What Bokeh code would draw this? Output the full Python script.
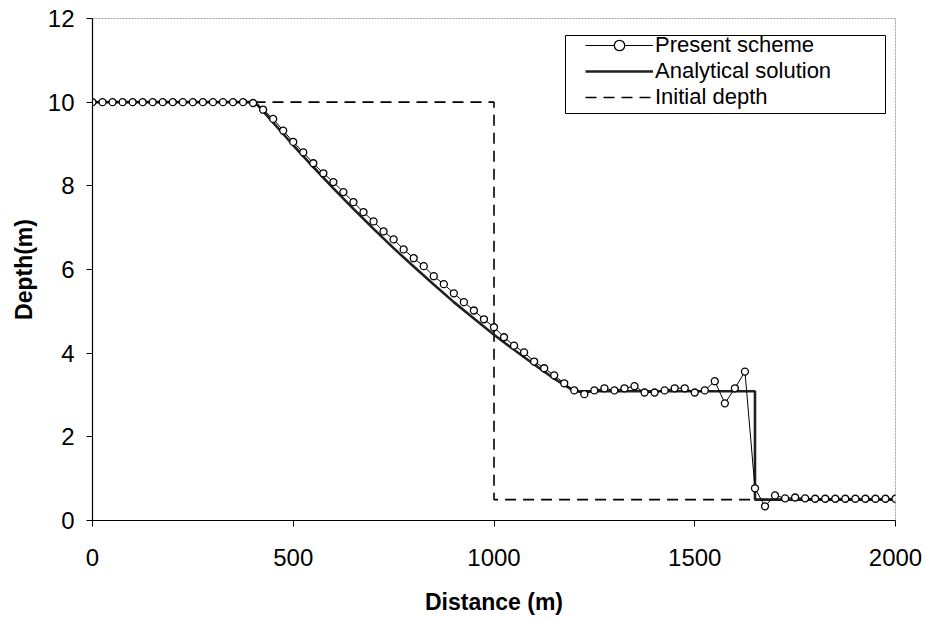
from bokeh.plotting import figure
from bokeh.models import Range1d, FixedTicker, Legend, LegendItem, ColumnDataSource, BoxAnnotation
from bokeh.embed import file_html
from bokeh.resources import INLINE

# ---- data ----
present_x = [0, 25, 50, 75, 100, 125, 150, 175, 200, 225, 250, 275, 300, 325, 350, 375,
             400, 425, 450, 475, 500, 525, 550, 575, 600, 625, 650, 675, 700, 725, 750, 775,
             800, 825, 850, 875, 900, 925, 950, 975, 1000, 1025, 1050, 1075, 1100, 1125, 1150, 1175,
             1200, 1225, 1250, 1275, 1300, 1325, 1350, 1375, 1400, 1425, 1450, 1475, 1500, 1525, 1550, 1575,
             1600, 1625, 1650, 1675, 1700, 1725, 1750, 1775, 1800, 1825, 1850, 1875, 1900, 1925, 1950, 1975,
             2000]
present_depth = [10.0, 10.0, 10.0, 10.0, 10.0, 10.0, 10.0, 10.0, 10.0, 10.0, 10.0, 10.0, 10.0, 10.0, 10.0, 10.0,
                 9.98, 9.82, 9.60, 9.32, 9.05, 8.80, 8.54, 8.30, 8.09, 7.85, 7.61, 7.37, 7.15, 6.91, 6.72, 6.48,
                 6.27, 6.08, 5.84, 5.65, 5.43, 5.22, 5.02, 4.81, 4.62, 4.38, 4.18, 4.02, 3.80, 3.64, 3.47, 3.28,
                 3.11, 3.02, 3.11, 3.16, 3.11, 3.16, 3.21, 3.06, 3.06, 3.11, 3.16, 3.16, 3.06, 3.11, 3.33, 2.80,
                 3.16, 3.56, 0.77, 0.34, 0.60, 0.53, 0.55, 0.53, 0.52, 0.52, 0.52, 0.52, 0.52, 0.52, 0.52, 0.52,
                 0.52]

analytical_x = [0, 405, 450, 500, 550, 600, 650, 700, 750, 800, 850, 900, 950, 1000,
                1050, 1100, 1150, 1200, 1650, 1650, 2000]
analytical_depth = [10.0, 10.0, 9.51, 8.97, 8.45, 7.94, 7.45, 6.97, 6.51, 6.07, 5.64, 5.22, 4.83, 4.44,
                    4.08, 3.73, 3.39, 3.09, 3.09, 0.5, 0.5]

initial_x = [0, 1000, 1000, 2000]
initial_depth = [10.0, 10.0, 0.5, 0.5]

x_ticks = [0, 500, 1000, 1500, 2000]
y_ticks = [0, 2, 4, 6, 8, 10, 12]

legend_labels = ["Present scheme", "Analytical solution", "Initial depth"]

FONT = "Liberation Sans"

p = figure(width=925, height=621, output_backend="svg", toolbar_location=None,
           x_range=Range1d(0, 2000), y_range=Range1d(0, 12),
           min_border_left=92, min_border_right=30, min_border_top=18, min_border_bottom=101)

p.background_fill_color = "white"
p.border_fill_color = "white"
p.outline_line_color = "#a0a0a0"
p.outline_line_width = 1
p.outline_line_dash = "2 1"
p.grid.visible = False

for ax in (p.xaxis[0], p.yaxis[0]):
    ax.axis_line_color = "black"
    ax.axis_line_width = 1.2
    ax.major_tick_line_color = "black"
    ax.major_tick_out = 6
    ax.major_tick_in = 0
    ax.minor_tick_line_color = None
    ax.major_label_text_font = FONT
    ax.major_label_text_font_size = "24px"
    ax.major_label_text_color = "black"
    ax.axis_label_text_font = FONT
    ax.axis_label_text_font_size = "23px"
    ax.axis_label_text_font_style = "bold"
    ax.axis_label_text_color = "black"

p.xaxis[0].ticker = FixedTicker(ticks=x_ticks)
p.yaxis[0].ticker = FixedTicker(ticks=y_ticks)
p.xaxis[0].major_label_standoff = 22
p.yaxis[0].major_label_standoff = 12
p.xaxis[0].axis_label = "Distance (m)"
p.yaxis[0].axis_label = "Depth(m)"
p.xaxis[0].axis_label_standoff = 20
p.yaxis[0].axis_label_standoff = 8

src_p = ColumnDataSource(dict(x=present_x, y=present_depth))
src_a = ColumnDataSource(dict(x=analytical_x, y=analytical_depth))
src_i = ColumnDataSource(dict(x=initial_x, y=initial_depth))

r_init = p.line("x", "y", source=src_i, line_color="black", line_width=1.6, line_dash="11 7")
r_ana = p.line("x", "y", source=src_a, line_color="#202020", line_width=2.6)
r_pl = p.line("x", "y", source=src_p, line_color="black", line_width=1)
r_pm = p.scatter("x", "y", source=src_p, marker="circle", size=7, fill_color="white",
                 line_color="black", line_width=1.3)

# legend frame (screen units, relative to the plot frame's bottom-left corner)
box = BoxAnnotation(left=473, right=793, top=485, bottom=407,
                    left_units="screen", right_units="screen",
                    top_units="screen", bottom_units="screen",
                    fill_color="white", fill_alpha=1.0,
                    line_color="black", line_width=1, line_alpha=1.0)
p.add_layout(box)

renderer_groups = [[r_pl, r_pm], [r_ana], [r_init]]
row_bottoms = [462, 436, 410]
for label, rends, yb in zip(legend_labels, renderer_groups, row_bottoms):
    lg = Legend(items=[LegendItem(label=label, renderers=rends)], location=(493, yb))
    lg.label_text_font = FONT
    lg.label_text_font_size = "22px"
    lg.label_text_color = "black"
    lg.glyph_width = 68
    lg.glyph_height = 26
    lg.label_height = 26
    lg.label_standoff = 2
    lg.padding = 0
    lg.margin = 0
    lg.spacing = 0
    lg.border_line_color = None
    lg.background_fill_alpha = 0
    p.add_layout(lg)

open("out.html", "w").write(file_html(p, INLINE))
